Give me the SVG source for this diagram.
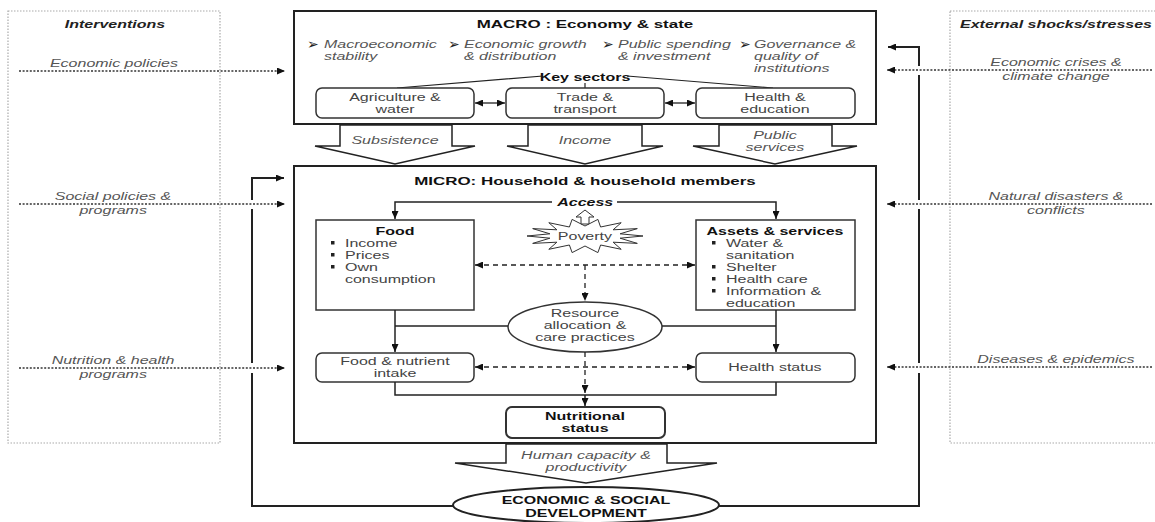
<svg xmlns="http://www.w3.org/2000/svg" width="1155" height="522" viewBox="0 0 1155 522">
<defs>
<style>
text{font-family:"Liberation Sans",Arial,sans-serif;font-size:10px;fill:#444;text-anchor:middle;transform-box:fill-box;transform-origin:center;transform:scaleX(1.6)}
text.s{text-anchor:start;transform-origin:left center}
text.i{font-style:italic;fill:#555}
text.b{font-weight:bold;fill:#111}
text.t{font-size:10.6px}
.box{fill:#fff;stroke:#222;stroke-width:2}
.ib{fill:#fff;stroke:#333;stroke-width:1.5}
.ln{fill:none;stroke:#222;stroke-width:1.5}
.dash{fill:none;stroke:#222;stroke-width:1.3;stroke-dasharray:5 4}
.dot{fill:none;stroke:#333;stroke-width:1.6;stroke-dasharray:2 1.6}
.frame{fill:none;stroke:#aaa;stroke-width:1.2;stroke-dasharray:1.5 1.5}
.blk{fill:#fff;stroke:#222;stroke-width:1.5}
.arr{font-family:"DejaVu Sans",sans-serif;font-size:14px;fill:#222;text-anchor:start;transform:none}
</style>
<marker id="ah" viewBox="0 0 8 7" refX="8" refY="3.5" markerWidth="8" markerHeight="7" markerUnits="userSpaceOnUse" orient="auto-start-reverse"><path d="M0,0 L8,3.5 L0,7 z" fill="#111"/></marker>
</defs>
<rect width="1155" height="522" fill="#fff"/>

<g id="interventions">
<rect class="frame" x="8" y="11" width="212" height="432"/>
<text class="b i" x="115" y="28" style="fill:#222">Interventions</text>
</g>
<g id="external-shocks">
<rect class="frame" x="950" y="11" width="220" height="432"/>
<text class="b i" x="1056" y="28" style="fill:#222">External shocks/stresses</text>
</g>

<g id="connectors">
<path class="ln" d="M453,506 H252 V373 M252,363 V209 M252,200 V178 H284" marker-end="url(#ah)" style="stroke-width:2"/>
<path class="ln" d="M719,506 H919 V373 M919,363 V209 M919,200 V75 M919,66 V47 H888" marker-end="url(#ah)" style="stroke-width:2"/>
<path class="dot" d="M19,71 H285" marker-end="url(#ah)"/>
<path class="dot" d="M19,204 H285" marker-end="url(#ah)"/>
<path class="dot" d="M19,368 H285" marker-end="url(#ah)"/>
<path class="dot" d="M1152,70 H887" marker-end="url(#ah)"/>
<path class="dot" d="M1152,204 H887" marker-end="url(#ah)"/>
<path class="dot" d="M1152,367 H887" marker-end="url(#ah)"/>
</g>

<g id="macro">
<rect class="box" x="294" y="11" width="582" height="113"/>
<text class="b t" x="585" y="28">MACRO : Economy &amp; state</text>
<text class="arr" x="307" y="49">➢</text>
<text class="s i" x="324" y="48">Macroeconomic</text>
<text class="s i" x="324" y="60">stability</text>
<text class="arr" x="448" y="49">➢</text>
<text class="s i" x="464" y="48">Economic growth</text>
<text class="s i" x="464" y="60">&amp; distribution</text>
<text class="arr" x="602" y="49">➢</text>
<text class="s i" x="618" y="48">Public spending</text>
<text class="s i" x="618" y="60">&amp; investment</text>
<text class="arr" x="739" y="49">➢</text>
<text class="s i" x="754" y="48">Governance &amp;</text>
<text class="s i" x="754" y="60">quality of</text>
<text class="s i" x="754" y="72">institutions</text>
<text class="b" x="585" y="81">Key sectors</text>
<path class="ln" d="M543,76 L397,88 M627,76 L773,88 M585,83 V88" style="stroke-width:1.2"/>
</g>

<g id="agriculture">
<rect class="ib" x="316" y="88" width="158" height="30" rx="6"/>
<text x="395" y="101">Agriculture &amp;</text>
<text x="395" y="113">water</text>
</g>
<g id="trade">
<rect class="ib" x="506" y="88" width="158" height="30" rx="6"/>
<text x="585" y="101">Trade &amp;</text>
<text x="585" y="113">transport</text>
</g>
<g id="health-education">
<rect class="ib" x="696" y="88" width="159" height="30" rx="6"/>
<text x="775" y="101">Health &amp;</text>
<text x="775" y="113">education</text>
</g>

<g id="connectors-macro">
<path class="ln" d="M475,103 H505" marker-start="url(#ah)" marker-end="url(#ah)" style="stroke-width:1.3"/>
<path class="ln" d="M665,103 H695" marker-start="url(#ah)" marker-end="url(#ah)" style="stroke-width:1.3"/>
</g>

<g id="flow-subsistence">
<polygon class="blk" points="340,125 340,146 315,146 395,164 475,146 452,146 452,125"/>
<text class="i" x="395" y="144">Subsistence</text>
</g>
<g id="flow-income">
<polygon class="blk" points="528,125 528,146 507,146 585,164 663,146 642,146 642,125"/>
<text class="i" x="585" y="144">Income</text>
</g>
<g id="flow-public">
<polygon class="blk" points="719,125 719,146 693,146 775,164 857,146 832,146 832,125"/>
<text class="i" x="775" y="139">Public</text>
<text class="i" x="775" y="151">services</text>
</g>

<g id="micro">
<rect class="box" x="294" y="166" width="582" height="277"/>
<text class="b t" x="585" y="185">MICRO: Household &amp; household members</text>
<text class="b i" x="585" y="206">Access</text>
</g>

<g id="poverty">
<polygon fill="#fff" stroke="#333" stroke-width="1" points="643,236 620.1,238.2 637.3,243.4 613.1,242.2 621.2,249.3 600.6,245 597.9,252.6 585,246 572.1,252.6 569.4,245 548.8,249.3 556.9,242.2 532.7,243.4 549.9,238.2 527,236 549.9,233.8 532.7,228.6 556.9,229.8 548.8,222.7 569.4,227 572.1,219.4 585,226 597.9,219.4 600.6,227 621.2,222.7 613.1,229.8 637.3,228.6 620.1,233.8"/>
<polygon fill="#fff" stroke="#333" stroke-width="1" points="585,210 576,217 581,217 581,224 589,224 589,217 594,217"/>
<text x="585" y="240">Poverty</text>
</g>

<g id="food">
<rect class="ib" x="316" y="220" width="158" height="90"/>
<text class="b" x="395" y="235">Food</text>
<rect x="331" y="241" width="3.5" height="3.5" fill="#222"/>
<rect x="331" y="253" width="3.5" height="3.5" fill="#222"/>
<rect x="331" y="265" width="3.5" height="3.5" fill="#222"/>
<text class="s" x="345" y="247">Income</text>
<text class="s" x="345" y="259">Prices</text>
<text class="s" x="345" y="271">Own</text>
<text class="s" x="345" y="283">consumption</text>
</g>

<g id="assets">
<rect class="ib" x="696" y="220" width="159" height="90"/>
<text class="b" x="775" y="235">Assets &amp; services</text>
<rect x="712" y="241" width="3.5" height="3.5" fill="#222"/>
<rect x="712" y="265" width="3.5" height="3.5" fill="#222"/>
<rect x="712" y="277" width="3.5" height="3.5" fill="#222"/>
<rect x="712" y="289" width="3.5" height="3.5" fill="#222"/>
<text class="s" x="726" y="247">Water &amp;</text>
<text class="s" x="726" y="259">sanitation</text>
<text class="s" x="726" y="271">Shelter</text>
<text class="s" x="726" y="283">Health care</text>
<text class="s" x="726" y="295">Information &amp;</text>
<text class="s" x="726" y="307">education</text>
</g>

<g id="resource-allocation">
<ellipse fill="#fff" stroke="#333" stroke-width="1.5" cx="585" cy="327" rx="77" ry="25"/>
<text x="585" y="317">Resource</text>
<text x="585" y="329">allocation &amp;</text>
<text x="585" y="341">care practices</text>
</g>

<g id="food-intake">
<rect class="ib" x="316" y="353" width="158" height="29" rx="6"/>
<text x="395" y="365">Food &amp; nutrient</text>
<text x="395" y="377">intake</text>
</g>

<g id="health-status">
<rect class="ib" x="696" y="353" width="159" height="29" rx="6"/>
<text x="775" y="371">Health status</text>
</g>

<g id="nutritional-status">
<rect class="ib" x="506" y="407" width="159" height="31" rx="6" style="stroke-width:2"/>
<text class="b" x="585" y="420">Nutritional</text>
<text class="b" x="585" y="432">status</text>
</g>

<g id="connectors-micro">
<path class="ln" d="M552,202 H395 V219" marker-end="url(#ah)"/>
<path class="ln" d="M617,202 H776 V219" marker-end="url(#ah)"/>
<path class="dash" d="M475,265 H695" marker-start="url(#ah)" marker-end="url(#ah)"/>
<path class="dash" d="M585,265 V301" marker-end="url(#ah)"/>
<path class="ln" d="M395,310 V352" marker-end="url(#ah)"/>
<path class="ln" d="M395,326 H508"/>
<path class="ln" d="M776,310 V352" marker-end="url(#ah)"/>
<path class="ln" d="M662,326 H776"/>
<path class="dash" d="M475,367 H695" marker-start="url(#ah)" marker-end="url(#ah)"/>
<path class="dash" d="M585,352 V393" marker-end="url(#ah)"/>
<path class="ln" d="M395,382 V395 H776 V382"/>
<path class="ln" d="M585,395 V406" marker-end="url(#ah)"/>
</g>

<g id="flow-human-capacity">
<polygon class="blk" points="506,444 506,463 455,463 586,483 717,463 667,463 667,444"/>
<text class="i" x="586" y="459">Human capacity &amp;</text>
<text class="i" x="586" y="471">productivity</text>
</g>

<g id="development">
<ellipse fill="#fff" stroke="#222" stroke-width="2" cx="586" cy="505" rx="133" ry="18"/>
<text class="b" x="586" y="504">ECONOMIC &amp; SOCIAL</text>
<text class="b" x="586" y="517">DEVELOPMENT</text>
</g>

<g id="labels">
<text class="i" x="114" y="67">Economic policies</text>
<text class="i" x="113" y="200">Social policies &amp;</text>
<text class="i" x="113" y="214">programs</text>
<text class="i" x="113" y="364">Nutrition &amp; health</text>
<text class="i" x="113" y="378">programs</text>
<text class="i" x="1056" y="66">Economic crises &amp;</text>
<text class="i" x="1056" y="80">climate change</text>
<text class="i" x="1056" y="200">Natural disasters &amp;</text>
<text class="i" x="1056" y="214">conflicts</text>
<text class="i" x="1056" y="363">Diseases &amp; epidemics</text>
</g>
</svg>
